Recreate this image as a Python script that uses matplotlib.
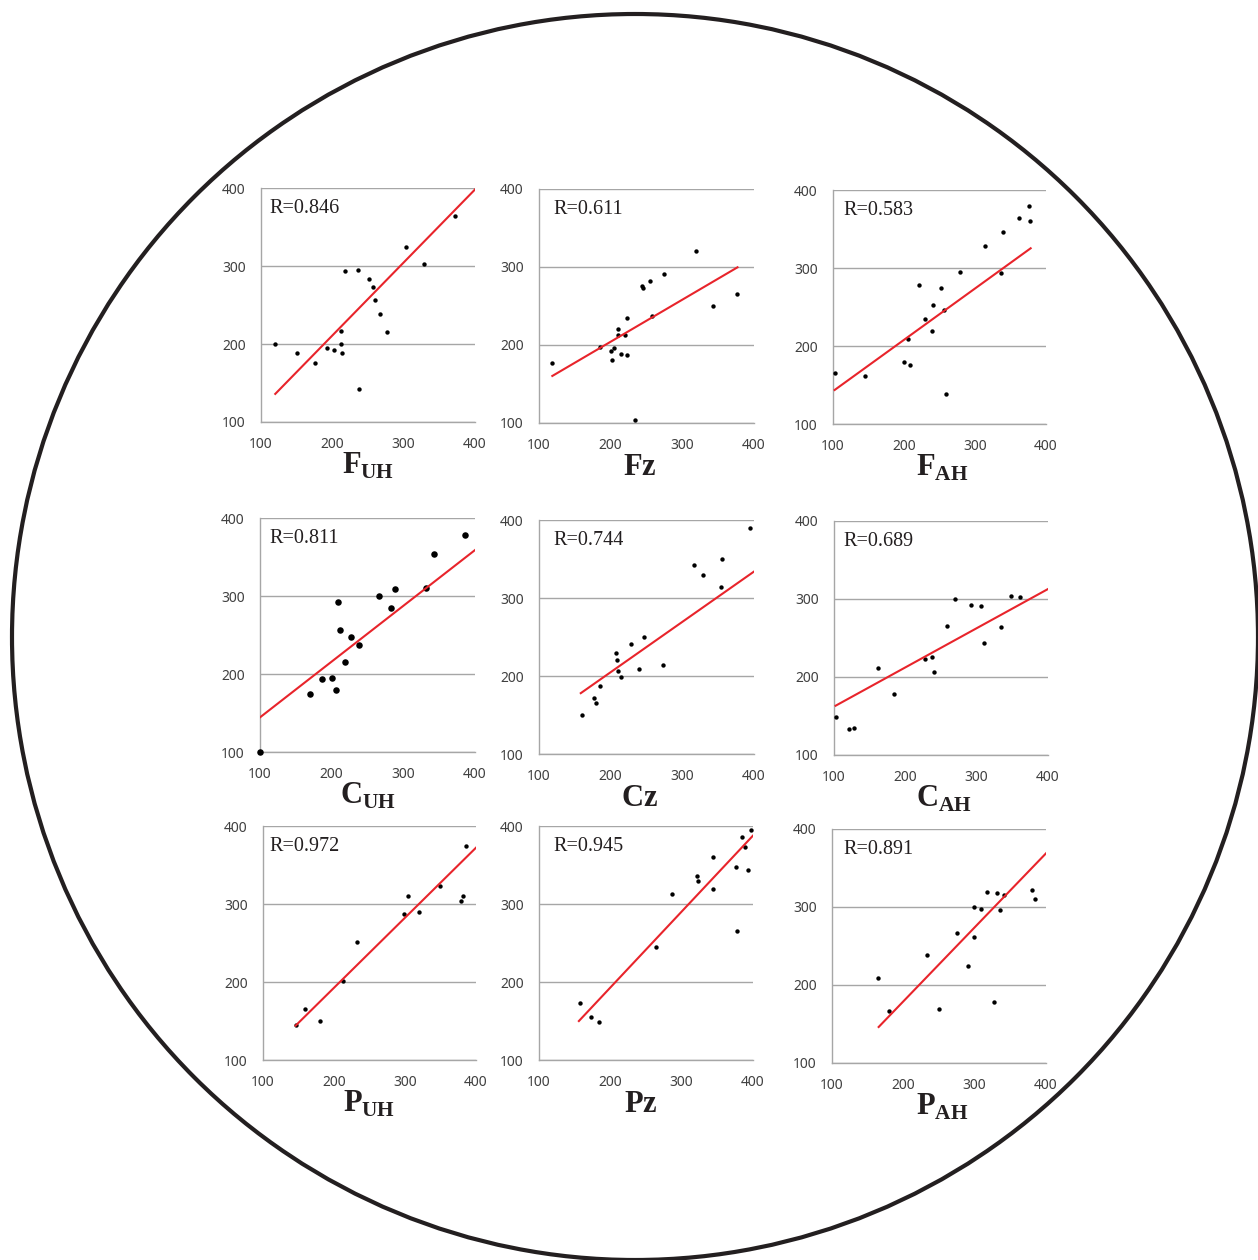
import matplotlib
matplotlib.use("Agg")
import matplotlib.pyplot as plt
from matplotlib.patches import Ellipse
import numpy as np

plt.rcParams['mathtext.fontset'] = 'custom'
plt.rcParams['mathtext.bf'] = 'Liberation Serif:bold'
plt.rcParams['mathtext.rm'] = 'Liberation Serif'

# ---------------- data ----------------
fuh_x = [120, 151, 175, 193, 202, 211.5, 211.5, 214, 218, 236, 237, 252, 257, 260, 267, 276, 303.5, 329, 372.5]
fuh_y = [200, 188, 176, 195, 192.5, 217, 200, 189, 293, 295, 142, 283, 272.5, 257, 238, 215, 325, 303, 364]

fz_x = [118.6, 185, 201, 201.5, 205, 210, 210, 214.6, 220, 223.4, 223.4, 233.7, 243.5, 245, 255, 257, 275, 318.5, 343, 376.7]
fz_y = [176.5, 197, 192, 180.8, 195.7, 221, 212.8, 189, 212.4, 234.6, 187.6, 104.3, 275.6, 273.5, 282, 236.8, 291, 321, 250.4, 265.4]

fah_x = [103.3, 144.5, 199.7, 205.3, 208.6, 221.2, 230, 239.4, 240.4, 251.6, 255.9, 259, 278.3, 313.9, 337.3, 340, 361.6, 376.6, 378]
fah_y = [165.4, 162, 179.5, 208.5, 176, 278.6, 235, 218.8, 253, 274.4, 246.6, 138.9, 295.3, 328.6, 294, 346, 364.5, 379.5, 360.3]

cuh_x = [100.5, 169.5, 185.9, 200.3, 205.5, 209.2, 211.5, 218.5, 227.4, 237.7, 266, 283.4, 289, 332, 343.1, 385.6]
cuh_y = [100, 174.4, 193.2, 195.3, 180, 291.9, 256, 215.4, 247.9, 237.6, 299.6, 285, 309.4, 309.8, 354.3, 377.8]

cz_x = [159.7, 177, 179.3, 185, 207.3, 208.7, 210.1, 214.8, 228.3, 239.5, 247, 272.7, 316.5, 328.2, 353.9, 354.8, 394.4]
cz_y = [149.5, 172, 164.8, 186.6, 228.9, 220.3, 207, 199, 241.2, 209.2, 250.6, 213.5, 342.4, 330, 314.6, 350.5, 390.2]

cah_x = [103.3, 121.5, 128.5, 162, 184, 226.9, 237.6, 240, 258.6, 269.8, 292.7, 305.8, 310, 333.8, 348.2, 361.3]
cah_y = [148.7, 133.3, 134.2, 212, 177.8, 222.6, 226, 206, 265.8, 299.6, 292.3, 290.6, 243.6, 264.5, 303.8, 302.1]

puh_x = [145.9, 159, 180.5, 213.2, 232.4, 298.4, 304.5, 319.5, 349, 378.9, 382.2, 385.9]
puh_y = [144.8, 165.7, 149.9, 200.7, 251.5, 287.3, 310.8, 289.5, 323.6, 304, 310.8, 374]

pz_x = [157.3, 172.7, 183.8, 263.5, 285.8, 321.2, 322.2, 343.6, 344.5, 376.2, 377.1, 385.1, 389.3, 392.5, 396.7]
pz_y = [173.4, 155.4, 148.6, 244.6, 312.5, 335.6, 330, 360.3, 319.8, 347.5, 265.1, 385.9, 372.7, 343.7, 394.9]

pah_x = [165, 180.4, 232.7, 249.5, 275.2, 290.2, 298.6, 299.5, 308.9, 317.3, 326.6, 330.8, 335.5, 340.7, 380.4, 384.6]
pah_y = [209.4, 166.7, 238, 169.2, 266.2, 224.8, 261.1, 300.4, 297.9, 319.2, 177.8, 318.4, 296.6, 315.4, 321.8, 310.7]

# fitted trend lines: slope, intercept, x start, x end
fit_slope = [0.936, 0.539, 0.658, 0.715, 0.645, 0.5025, 0.898, 0.974, 0.949]
fit_intercept = [23.7, 96.4, 76.3, 72.9, 75.9, 111.8, 13.0, -1.9, -10.8]
fit_x0 = [120, 118.6, 102.3, 100, 158.3, 102.3, 145.9, 155.9, 165.4]
fit_x1 = [400, 377, 378.4, 400, 400, 400, 400, 400, 400]

r_values = ["0.846", "0.611", "0.583", "0.811", "0.744", "0.689", "0.972", "0.945", "0.891"]
labels = [r"$\mathbf{F}_{\mathbf{UH}}$", r"$\mathbf{Fz}$", r"$\mathbf{F}_{\mathbf{AH}}$",
          r"$\mathbf{C}_{\mathbf{UH}}$", r"$\mathbf{Cz}$", r"$\mathbf{C}_{\mathbf{AH}}$",
          r"$\mathbf{P}_{\mathbf{UH}}$", r"$\mathbf{Pz}$", r"$\mathbf{P}_{\mathbf{AH}}$"]
ticks = [100, 200, 300, 400]

xs_all = [fuh_x, fz_x, fah_x, cuh_x, cz_x, cah_x, puh_x, pz_x, pah_x]
ys_all = [fuh_y, fz_y, fah_y, cuh_y, cz_y, cah_y, puh_y, pz_y, pah_y]

# ---------------- layout ----------------
W, H = 1258, 1260
fig = plt.figure(figsize=(W / 100, H / 100), dpi=100)

# axes boxes in pixels: left, right, top, bottom
boxes = [
    (261, 475, 188, 422), (539, 754, 189, 423), (833, 1046, 190, 424),
    (260, 475, 518, 752), (539, 754, 520, 754), (834, 1048, 521, 755),
    (263, 476, 826, 1060), (539, 753, 826, 1060), (832, 1046, 829, 1063),
]
r_left = [269, 553, 843]
grey = '#a6a6a6'
dot_sizes = [10, 10, 10, 22, 10, 10, 10, 10, 10]
label_dx = [0, -7, 3, 0, -7, 3, 0, -5, 3]

for i, (l, r, t, b) in enumerate(boxes):
    ax = fig.add_axes([l / W, 1 - b / H, (r - l) / W, (b - t) / H])
    ax.set_xlim(100, 400)
    ax.set_ylim(100, 400)
    ax.set_xticks(ticks)
    ax.set_yticks(ticks)
    ax.tick_params(length=0, labelsize=10, labelcolor='#404040', pad=11)
    for lab in ax.get_xticklabels() + ax.get_yticklabels():
        lab.set_fontfamily('Noto Sans')
    ax.yaxis.grid(True, color=grey, lw=1.0)
    ax.set_axisbelow(True)
    for s in ['top', 'right']:
        ax.spines[s].set_visible(False)
    for s in ['left', 'bottom']:
        ax.spines[s].set_color(grey)
        ax.spines[s].set_linewidth(1.0)
    ax.scatter(xs_all[i], ys_all[i], s=dot_sizes[i], color='black', zorder=3, clip_on=False, linewidths=0)
    lx = np.array([fit_x0[i], fit_x1[i]])
    ax.plot(lx, fit_slope[i] * lx + fit_intercept[i], color='#e8242b', lw=1.5, zorder=4)
    col = i % 3
    fig.text(r_left[col] / W, 1 - (t + 25) / H, "R=" + r_values[i], fontsize=14.5,
             family='Liberation Serif', color='#231f20', ha='left', va='baseline')
    fig.text(((l + r) / 2 + label_dx[i]) / W, 1 - (b + 52) / H, labels[i], fontsize=22,
             color='#231f20', ha='center', va='baseline')

circle = Ellipse((635 / W, 1 - 637 / H), 2 * 623 / W, 2 * 623 / H, transform=fig.transFigure,
                 fill=False, edgecolor='#231f20', lw=3.0, clip_on=False)
fig.add_artist(circle)

fig.savefig('out.png', dpi=100, facecolor='white')
